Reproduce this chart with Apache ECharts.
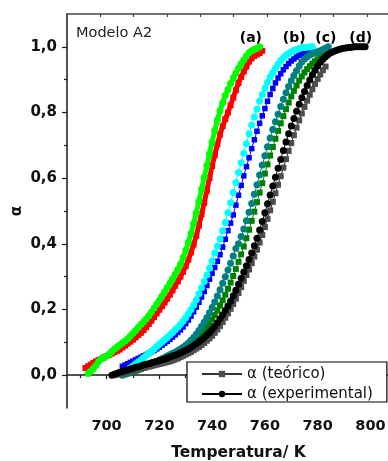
<!DOCTYPE html>
<html>
<head>
<meta charset="utf-8">
<script src="https://cdn.jsdelivr.net/npm/echarts@6/dist/echarts.min.js"></script>
<style>
  html, body { margin: 0; padding: 0; background: #fff; }
  #chart { width: 388px; height: 461px; }
</style>
</head>
<body>
<div id="chart"></div>
<script>
// alpha, one value per kelvin starting at the given temperature
const startA_teo = 692
const alphaA_teo = [0.022, 0.027, 0.032, 0.037, 0.042, 0.046, 0.05, 0.054, 0.058, 0.062,
  0.066, 0.07, 0.074, 0.078, 0.084, 0.09, 0.096, 0.102, 0.108, 0.115,
  0.122, 0.129, 0.137, 0.146, 0.156, 0.166, 0.177, 0.188, 0.199, 0.21,
  0.221, 0.233, 0.245, 0.258, 0.272, 0.286, 0.3, 0.315, 0.332, 0.352,
  0.374, 0.398, 0.425, 0.456, 0.49, 0.525, 0.562, 0.6, 0.637, 0.67,
  0.703, 0.733, 0.758, 0.78, 0.8, 0.822, 0.845, 0.868, 0.89, 0.908,
  0.925, 0.94, 0.955, 0.965, 0.972, 0.977, 0.981, 0.988]

const startA_exp = 693
const alphaA_exp = [0.005, 0.012, 0.02, 0.03, 0.042, 0.05, 0.054, 0.058, 0.064, 0.072,
  0.08, 0.086, 0.092, 0.098, 0.104, 0.111, 0.119, 0.128, 0.136, 0.145,
  0.154, 0.162, 0.171, 0.181, 0.192, 0.204, 0.216, 0.228, 0.241, 0.254,
  0.267, 0.28, 0.293, 0.307, 0.322, 0.338, 0.358, 0.38, 0.405, 0.432,
  0.462, 0.495, 0.53, 0.566, 0.602, 0.638, 0.674, 0.71, 0.745, 0.777,
  0.805, 0.83, 0.852, 0.87, 0.888, 0.905, 0.92, 0.935, 0.948, 0.96,
  0.972, 0.982, 0.988, 0.992, 0.996, 1.0]

const startB_teo = 706
const alphaB_teo = [0.027, 0.031, 0.035, 0.039, 0.043, 0.047, 0.051, 0.055, 0.059, 0.063,
  0.067, 0.071, 0.075, 0.08, 0.085, 0.091, 0.097, 0.103, 0.109, 0.116,
  0.123, 0.13, 0.138, 0.147, 0.157, 0.168, 0.18, 0.193, 0.207, 0.222,
  0.238, 0.255, 0.273, 0.292, 0.31, 0.328, 0.347, 0.367, 0.39, 0.414,
  0.44, 0.463, 0.488, 0.518, 0.548, 0.578, 0.607, 0.635, 0.662, 0.69,
  0.717, 0.743, 0.767, 0.79, 0.812, 0.834, 0.855, 0.873, 0.89, 0.905,
  0.918, 0.93, 0.94, 0.949, 0.957, 0.963, 0.969, 0.974, 0.978, 0.982,
  0.985, 0.988, 0.99]

const startB_exp = 707
const alphaB_exp = [0.01, 0.016, 0.022, 0.028, 0.034, 0.04, 0.046, 0.053, 0.06, 0.066,
  0.073, 0.08, 0.087, 0.094, 0.101, 0.108, 0.115, 0.122, 0.13, 0.138,
  0.146, 0.155, 0.164, 0.175, 0.187, 0.2, 0.214, 0.23, 0.248, 0.266,
  0.285, 0.305, 0.326, 0.348, 0.372, 0.393, 0.415, 0.44, 0.465, 0.495,
  0.525, 0.556, 0.587, 0.617, 0.647, 0.676, 0.705, 0.735, 0.762, 0.786,
  0.81, 0.835, 0.855, 0.874, 0.892, 0.908, 0.922, 0.935, 0.947, 0.958,
  0.967, 0.974, 0.98, 0.985, 0.989, 0.992, 0.995, 0.997, 0.998, 0.999,
  1.0, 1.0]

const startC_teo = 707
const alphaC_teo = [0.003, 0.005, 0.008, 0.01, 0.013, 0.016, 0.019, 0.022, 0.025, 0.028,
  0.031, 0.034, 0.037, 0.041, 0.045, 0.049, 0.053, 0.057, 0.061, 0.065,
  0.07, 0.075, 0.08, 0.082, 0.088, 0.094, 0.1, 0.107, 0.115, 0.124,
  0.134, 0.145, 0.157, 0.17, 0.183, 0.197, 0.212, 0.228, 0.245, 0.263,
  0.282, 0.302, 0.323, 0.345, 0.368, 0.392, 0.417, 0.443, 0.47, 0.498,
  0.527, 0.556, 0.585, 0.614, 0.642, 0.669, 0.695, 0.72, 0.744, 0.767,
  0.789, 0.81, 0.83, 0.849, 0.866, 0.882, 0.897, 0.91, 0.922, 0.932,
  0.941, 0.949, 0.956, 0.962, 0.967, 0.972, 0.985]

const startC_exp = 706
const alphaC_exp = [0.0, 0.003, 0.006, 0.009, 0.012, 0.015, 0.018, 0.021, 0.024, 0.027,
  0.03, 0.034, 0.038, 0.042, 0.046, 0.05, 0.054, 0.058, 0.062, 0.066,
  0.07, 0.075, 0.08, 0.085, 0.091, 0.098, 0.106, 0.115, 0.125, 0.136,
  0.148, 0.161, 0.175, 0.19, 0.206, 0.223, 0.241, 0.26, 0.28, 0.3,
  0.32, 0.341, 0.363, 0.386, 0.4, 0.422, 0.445, 0.47, 0.496, 0.523,
  0.551, 0.58, 0.61, 0.64, 0.668, 0.696, 0.722, 0.748, 0.772, 0.795,
  0.818, 0.84, 0.86, 0.879, 0.897, 0.913, 0.927, 0.942, 0.954, 0.963,
  0.97, 0.975, 0.979, 0.982, 0.985, 0.988, 0.992, 0.996, 1.0]

const startD_teo = 703
const alphaD_teo = [0.0, 0.002, 0.004, 0.006, 0.008, 0.01, 0.012, 0.014, 0.016, 0.018,
  0.02, 0.022, 0.024, 0.026, 0.028, 0.03, 0.032, 0.034, 0.036, 0.038,
  0.04, 0.042, 0.045, 0.048, 0.051, 0.055, 0.059, 0.063, 0.067, 0.071,
  0.076, 0.081, 0.086, 0.092, 0.098, 0.105, 0.112, 0.12, 0.129, 0.139,
  0.15, 0.162, 0.175, 0.188, 0.202, 0.217, 0.233, 0.25, 0.268, 0.287,
  0.305, 0.322, 0.341, 0.361, 0.382, 0.404, 0.427, 0.451, 0.476, 0.502,
  0.528, 0.554, 0.58, 0.606, 0.632, 0.658, 0.683, 0.707, 0.731, 0.754,
  0.776, 0.797, 0.817, 0.836, 0.854, 0.871, 0.887, 0.902, 0.916, 0.929,
  0.94]

const startD_exp = 702
const alphaD_exp = [0.0, 0.003, 0.006, 0.009, 0.011, 0.014, 0.016, 0.019, 0.021, 0.024,
  0.026, 0.028, 0.031, 0.033, 0.035, 0.038, 0.04, 0.042, 0.045, 0.047,
  0.049, 0.052, 0.055, 0.058, 0.061, 0.064, 0.068, 0.072, 0.076, 0.08,
  0.085, 0.09, 0.096, 0.102, 0.108, 0.115, 0.122, 0.13, 0.139, 0.149,
  0.16, 0.172, 0.184, 0.197, 0.211, 0.226, 0.242, 0.259, 0.277, 0.295,
  0.314, 0.333, 0.352, 0.372, 0.394, 0.417, 0.442, 0.468, 0.495, 0.522,
  0.549, 0.576, 0.603, 0.63, 0.657, 0.684, 0.71, 0.735, 0.759, 0.782,
  0.804, 0.825, 0.845, 0.864, 0.882, 0.899, 0.915, 0.929, 0.942, 0.953,
  0.962, 0.97, 0.977, 0.982, 0.986, 0.989, 0.992, 0.994, 0.996, 0.997,
  0.998, 0.999, 1.0, 1.0, 1.0, 1.0, 1.0]

const xLabels = [700, 720, 740, 760, 780, 800]
const xMinor = [690, 710, 730, 750, 770, 790, 810]
const yLabels = [0, 0.2, 0.4, 0.6, 0.8, 1.0]
const yMinor = [0.1, 0.3, 0.5, 0.7, 0.9]

const tagText = ['(a)', '(b)', '(c)', '(d)']
const tagT = [754.7, 771.1, 783.1, 796.3]
const tagAlpha = [1.025, 1.025, 1.025, 1.025]

const pairs = (t0, arr) => arr.map((v, i) => [t0 + i, v])

const curve = (name, t0, arr, color, symbol, size, lineW, lineColor) => ({
  name, type: 'line', data: pairs(t0, arr),
  symbol, symbolSize: size, showSymbol: true,
  itemStyle: { color },
  lineStyle: { color: lineColor || color, width: lineW },
  emphasis: { disabled: true }, animation: false, clip: true
})

const chart = echarts.init(document.getElementById('chart'))
const axisCol = '#1a1a1a'
const boldFont = 'DejaVu Sans'

chart.setOption({
  animation: false,
  title: {
    text: 'Modelo A2', left: 76, top: 26, padding: 0,
    textStyle: { fontFamily: 'DejaVu Sans', fontSize: 14.5, fontWeight: 'normal', color: '#222' }
  },
  grid: { left: 67, top: 14, right: -22, bottom: 53, outerBoundsMode: 'none', containLabel: false },
  legend: {
    orient: 'vertical', left: 187, top: 362,
    padding: [4.5, 14, 0.5, 14], itemGap: 5,
    itemWidth: 40, itemHeight: 8,
    borderColor: '#000', borderWidth: 1.2, backgroundColor: '#fff',
    textStyle: { fontFamily: 'DejaVu Sans', fontSize: 15, color: '#111' },
    data: ['α (teórico)', 'α (experimental)']
  },
  xAxis: [
    {
      type: 'value', min: 685, max: 815, position: 'bottom',
      name: 'Temperatura/ K', nameLocation: 'middle', nameGap: 37,
      nameTextStyle: { fontFamily: boldFont, fontWeight: 'bold', fontSize: 15.5, color: '#111' },
      axisLine: { lineStyle: { color: axisCol, width: 1.5 } },
      axisTick: { customValues: xLabels, length: 4, lineStyle: { color: axisCol, width: 1.2 } },
      axisLabel: { customValues: xLabels, margin: 11, fontFamily: boldFont, fontWeight: 'bold', fontSize: 14.5, color: '#111' },
      splitLine: { show: false }
    },
    {
      type: 'value', min: 685, max: 815, position: 'bottom',
      axisLine: { show: false },
      axisTick: { customValues: xMinor, length: 3, lineStyle: { color: axisCol, width: 1.2 } },
      axisLabel: { show: false }, splitLine: { show: false }
    },
    {
      type: 'value', min: 0, max: 10.29, position: 'top',
      axisLine: { lineStyle: { color: '#444', width: 1.5 } },
      axisTick: { customValues: [1, 2, 3, 4, 5, 6, 7, 8, 9, 10], inside: true, length: 3, lineStyle: { color: '#444', width: 1.2 } },
      axisLabel: { show: false }, splitLine: { show: false }
    }
  ],
  yAxis: [
    {
      type: 'value', min: -0.1, max: 1.1, position: 'left',
      name: 'α', nameLocation: 'middle', nameGap: 42, nameMoveOverlap: false,
      nameTextStyle: { fontFamily: boldFont, fontWeight: 'bold', fontSize: 15, color: '#111' },
      axisLine: { show: true, lineStyle: { color: axisCol, width: 1.5 } },
      axisTick: { show: true, customValues: yLabels, length: 5, lineStyle: { color: axisCol, width: 1.2 } },
      axisLabel: {
        customValues: yLabels, margin: 10, fontFamily: boldFont, fontWeight: 'bold', fontSize: 15, color: '#111',
        formatter: v => v.toFixed(1).replace('.', ',')
      },
      splitLine: { show: false }
    },
    {
      type: 'value', min: -0.1, max: 1.1, position: 'left',
      axisLine: { show: false },
      axisTick: { show: true, customValues: yMinor, length: 3, lineStyle: { color: axisCol, width: 1.2 } },
      axisLabel: { show: false }, splitLine: { show: false }
    }
  ],
  series: [
    curve('a_teo', startA_teo, alphaA_teo, '#ff0000', 'rect', 6, 5),
    curve('a_exp', startA_exp, alphaA_exp, '#00ff00', 'circle', 7, 5),
    curve('b_teo', startB_teo, alphaB_teo, '#0000ff', 'rect', 5.5, 1),
    curve('b_exp', startB_exp, alphaB_exp, '#00ffff', 'circle', 7, 1),
    curve('c_teo', startC_teo, alphaC_teo, '#008000', 'rect', 6, 1),
    curve('c_exp', startC_exp, alphaC_exp, '#008080', 'circle', 7, 1),
    curve('d_teo', startD_teo, alphaD_teo, '#4d4d4d', 'rect', 6, 1, '#222'),
    curve('d_exp', startD_exp, alphaD_exp, '#000000', 'circle', 7, 1),
    {
      name: 'tags', type: 'scatter', symbolSize: 0, silent: true,
      itemStyle: { opacity: 1 },
      data: tagT.map((t, i) => [t, tagAlpha[i], tagText[i]]),
      label: {
        show: true, position: 'inside', formatter: p => p.data[2], opacity: 1,
        fontFamily: boldFont, fontWeight: 'bold', fontSize: 14, color: '#000'
      }
    },
    {
      name: 'α (teórico)', type: 'line', data: [], symbol: 'rect', symbolSize: 7,
      itemStyle: { color: '#4d4d4d' }, lineStyle: { color: '#333', width: 1 }
    },
    {
      name: 'α (experimental)', type: 'line', data: [], symbol: 'circle', symbolSize: 7,
      itemStyle: { color: '#000' }, lineStyle: { color: '#000', width: 1 }
    }
  ]
})
</script>
</body>
</html>
